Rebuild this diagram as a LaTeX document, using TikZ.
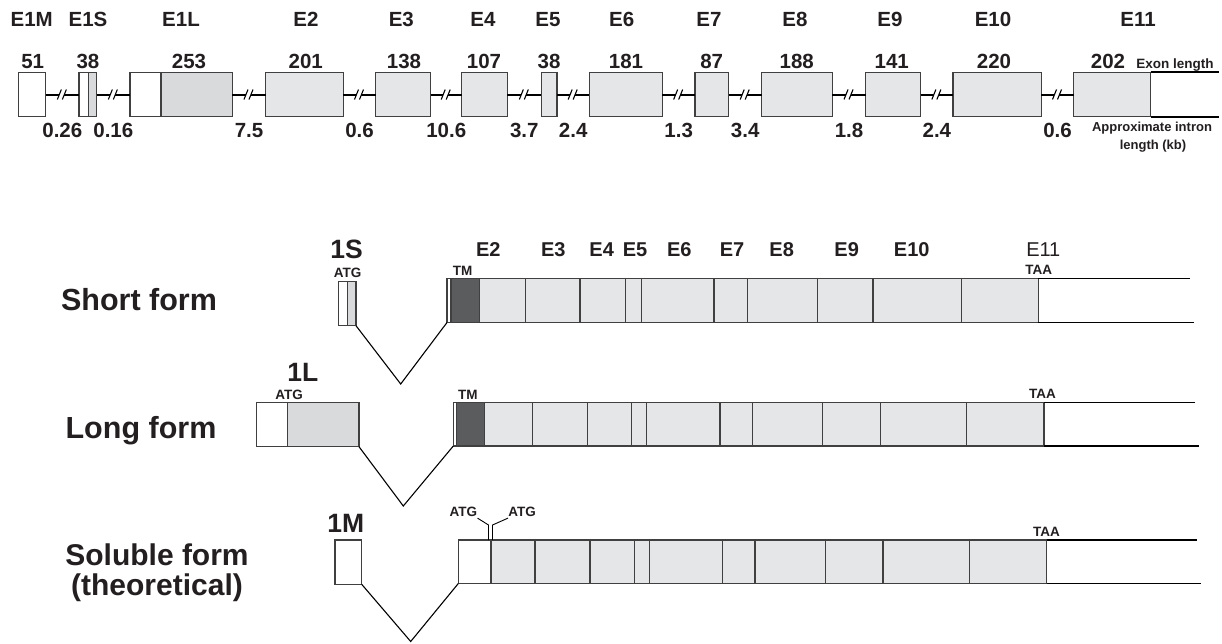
\documentclass[tikz,border=0pt]{standalone}
\usepackage{fontspec}
\setmainfont{Liberation Sans}
\usetikzlibrary{calc}
\definecolor{ink}{HTML}{231F20}
\definecolor{exf}{HTML}{E5E6E7}
\definecolor{cdsg}{HTML}{D9DADC}
\definecolor{tmf}{HTML}{5B5C5E}
\definecolor{boxc}{HTML}{404040}
\newcommand\exn[6]{\node[#2,minimum width={(#4)-(#3)},minimum height={(#6)-(#5)},anchor=north west] (#1) at (#3,#5) {};}
\tikzset{
  box/.style={draw=boxc,line width=1.2pt,inner sep=0pt,outer sep=0pt},
  exon/.style={box,fill=exf},
  utr/.style={box,fill=white},
  cds/.style={box,fill=cdsg},
  tmseg/.style={box,fill=tmf},
  intron/.style={draw=black,line width=2pt},
  tail/.style={draw=black,line width=2pt},
  splice/.style={draw=black,line width=1.1pt},
  ptr/.style={draw=black,line width=0.9pt},
  txt/.style={anchor=base,inner sep=0pt,outer sep=0pt,text=ink},
  lbl/.style={txt,font=\bfseries\fontsize{20.5}{24}\selectfont},
  ilen/.style={lbl,yshift=-43.2pt},
  ename/.style={txt,font=\bfseries\fontsize{20}{24}\selectfont},
  sub/.style={txt,font=\bfseries\fontsize{13.5}{16}\selectfont},
  note/.style={txt,font=\bfseries\fontsize{13}{16}\selectfont},
  big/.style={txt,font=\bfseries\fontsize{26.5}{30}\selectfont},
  iso/.style={txt,font=\bfseries\fontsize{30.5}{36}\selectfont},
  brk/.pic={\fill[white] (-5,5)--(-1,-5)--(4,-5)--(0,5)--cycle;
            \draw[black,line width=1.1pt] (-5,5)--(-1,-5) (0,5)--(4,-5);}
}
\begin{document}
\begin{tikzpicture}[x=1pt,y=-1pt]
\useasboundingbox[fill=white] (0,0) rectangle (1222,643);

% ---------- top: gene structure ----------
\exn{e1m}{utr}{18.3}{45.7}{72.3}{116.7}
\exn{e1sa}{utr}{79}{88.3}{72.3}{116.7}
\exn{e1sb}{cds}{88.3}{96.7}{72.3}{116.7}
\exn{e1la}{utr}{130}{161}{72.3}{116.7}
\exn{e1lb}{cds}{161}{232.3}{72.3}{116.7}
\exn{e2}{exon}{265.7}{343.3}{72.3}{116.7}
\exn{e3}{exon}{375.7}{430.7}{72.3}{116.7}
\exn{e4}{exon}{461.7}{507.3}{72.3}{116.7}
\exn{e5}{exon}{541.3}{557}{72.3}{116.7}
\exn{e6}{exon}{589.3}{662.3}{72.3}{116.7}
\exn{e7}{exon}{695}{728.7}{72.3}{116.7}
\exn{e8}{exon}{761.7}{832.3}{72.3}{116.7}
\exn{e9}{exon}{865.7}{920.7}{72.3}{116.7}
\exn{e10}{exon}{953}{1041.3}{72.3}{116.7}
\exn{e11}{exon}{1073.7}{1150.7}{72.3}{116.7}

\draw[intron] (e1m.east) -- node[ilen]{0.26} coordinate[midway](k1) (e1sa.west);
\draw[intron] (e1sb.east) -- node[ilen]{0.16} coordinate[midway](k2) (e1la.west);
\draw[intron] (e1lb.east) -- node[ilen]{7.5} coordinate[midway](k3) (e2.west);
\draw[intron] (e2.east) -- node[ilen]{0.6} coordinate[midway](k4) (e3.west);
\draw[intron] (e3.east) -- node[ilen]{10.6} coordinate[midway](k5) (e4.west);
\draw[intron] (e4.east) -- node[ilen]{3.7} coordinate[midway](k6) (e5.west);
\draw[intron] (e5.east) -- node[ilen]{2.4} coordinate[midway](k7) (e6.west);
\draw[intron] (e6.east) -- node[ilen]{1.3} coordinate[midway](k8) (e7.west);
\draw[intron] (e7.east) -- node[ilen]{3.4} coordinate[midway](k9) (e8.west);
\draw[intron] (e8.east) -- node[ilen]{1.8} coordinate[midway](k10) (e9.west);
\draw[intron] (e9.east) -- node[ilen]{2.4} coordinate[midway](k11) (e10.west);
\draw[intron] (e10.east) -- node[ilen]{0.6} coordinate[midway](k12) (e11.west);
\foreach \k in {k1,k2,k3,k4,k5,k6,k7,k8,k9,k10,k11,k12} \pic at (\k) {brk};

\coordinate (t1) at (1219,72.3);
\coordinate (t2) at (1219,116.7);
\draw[tail] (e11.north east) -- (t1);
\draw[tail] (e11.south east) -- (t2);

% exon names
\node[lbl] (n1m) at (31.7,26) {E1M};
\node[lbl] (n1s) at (88,26) {E1S};
\node[lbl] (n1l) at (181,26) {E1L};
\node[lbl] (n2) at (306,26) {E2};
\node[lbl] (n3) at (401.3,26) {E3};
\node[lbl] (n4) at (483,26) {E4};
\node[lbl] (n5) at (548,26) {E5};
\node[lbl] (n6) at (621.7,26) {E6};
\node[lbl] (n7) at (709,26) {E7};
\node[lbl] (n8) at (795,26) {E8};
\node[lbl] (n9) at (890,26) {E9};
\node[lbl] (n10) at (993,26) {E10};
\node[lbl] (n11) at (1138,26) {E11};
% exon lengths
\node[lbl] (l1m) at (32.7,68.3) {51};
\node[lbl] (l1s) at (88,68.3) {38};
\node[lbl] (l1l) at (189,68.3) {253};
\node[lbl] (l2) at (305.7,68.3) {201};
\node[lbl] (l3) at (404,68.3) {138};
\node[lbl] (l4) at (484,68.3) {107};
\node[lbl] (l5) at (549,68.3) {38};
\node[lbl] (l6) at (626,68.3) {181};
\node[lbl] (l7) at (711.7,68.3) {87};
\node[lbl] (l8) at (796.7,68.3) {188};
\node[lbl] (l9) at (891.7,68.3) {141};
\node[lbl] (l10) at (994,68.3) {220};
\node[lbl] (l11) at (1108,68.3) {202};
\node[note,font=\bfseries\fontsize{13.5}{16}\selectfont] (exlen) at (1175,68) {Exon length};
\node[note] (inlenA) at (1152,131) {Approximate intron};
\node[note] (inlenB) at (1153,149) {length (kb)};

% ---------- short form ----------
\node[iso] (shortlab) at (139,310) {Short form};
\exn{sa}{utr}{338.3}{347.7}{281.7}{325.7}
\exn{sb}{cds}{347.7}{356}{281.7}{325.7}
\exn{s0}{utr}{447}{451}{278.5}{322.5}
\exn{stm}{tmseg}{451}{479.3}{278.5}{322.5}
\exn{s2}{exon}{479.3}{525.3}{278.5}{322.5}
\exn{s3}{exon}{525.3}{580}{278.5}{322.5}
\exn{s4}{exon}{580}{625.7}{278.5}{322.5}
\exn{s5}{exon}{625.7}{641.7}{278.5}{322.5}
\exn{s6}{exon}{641.7}{714}{278.5}{322.5}
\exn{s7}{exon}{714}{747.3}{278.5}{322.5}
\exn{s8}{exon}{747.3}{817.7}{278.5}{322.5}
\exn{s9}{exon}{817.7}{873}{278.5}{322.5}
\exn{s10}{exon}{873}{961.7}{278.5}{322.5}
\exn{s11}{exon}{961.7}{1038.3}{278.5}{322.5}
\coordinate (st1) at (1190,278.5);
\coordinate (st2) at (1194,322.5);
\draw[tail,line width=1.5pt] (s11.north east) -- (st1);
\draw[tail,line width=1.5pt] (s11.south east) -- (st2);
\coordinate (vs) at (400.7,384);
\draw[splice] (sb.south east) -- (vs) -- (s0.south west);
\node[big] (s1lab) at (346.7,258.3) {1S};
\node[sub] (satg) at (347.7,277.3) {ATG};
\node[sub] (stmlab) at (462.7,275) {TM};
\node[sub] (staa) at (1038.7,274) {TAA};
\node[ename] (sn2) at (488.3,256) {E2};
\node[ename] (sn3) at (553.3,256) {E3};
\node[ename] (sn4) at (601.7,256) {E4};
\node[ename] (sn5) at (635,256) {E5};
\node[ename] (sn6) at (679.3,256) {E6};
\node[ename] (sn7) at (732,256) {E7};
\node[ename] (sn8) at (781.7,256) {E8};
\node[ename] (sn9) at (846.7,256) {E9};
\node[ename] (sn10) at (911.7,256) {E10};
\node[ename,font=\fontsize{20}{24}\selectfont] (sn11) at (1043.3,256) {E11};

% ---------- long form ----------
\node[iso] (longlab) at (141,438.3) {Long form};
\exn{la}{utr}{256.7}{287.3}{402.3}{446.7}
\exn{lb}{cds}{287.3}{359}{402.3}{446.7}
\exn{l0}{utr}{453.3}{456.7}{402.5}{446}
\exn{ltm}{tmseg}{456.7}{484.3}{402.5}{446}
\exn{lx2}{exon}{484.3}{532.7}{402.5}{446}
\exn{lx3}{exon}{532.7}{587.3}{402.5}{446}
\exn{lx4}{exon}{587.3}{631.7}{402.5}{446}
\exn{lx5}{exon}{631.7}{646.7}{402.5}{446}
\exn{lx6}{exon}{646.7}{720}{402.5}{446}
\exn{lx7}{exon}{720}{752.7}{402.5}{446}
\exn{lx8}{exon}{752.7}{822.7}{402.5}{446}
\exn{lx9}{exon}{822.7}{880.3}{402.5}{446}
\exn{lx10}{exon}{880.3}{966.7}{402.5}{446}
\exn{lx11}{exon}{966.7}{1044}{402.5}{446}
\coordinate (lt1) at (1195,402.5);
\coordinate (lt2) at (1199,446);
\draw[tail,line width=1.5pt] (lx11.north east) -- (lt1);
\draw[tail,line width=1.5pt] (lx11.south east) -- (lt2);
\coordinate (vl) at (403.3,506);
\draw[splice] (lb.south east) -- (vl) -- (l0.south west);
\node[big] (l1lab) at (302.8,381.7) {1L};
\node[sub] (latg) at (289,399.3) {ATG};
\node[sub] (ltmlab) at (467.8,399) {TM};
\node[sub] (ltaa) at (1042.5,398.3) {TAA};

% ---------- soluble form ----------
\node[iso,font=\bfseries\fontsize{30}{36}\selectfont] (sollab) at (157,565.5) {Soluble form};
\node[iso,font=\bfseries\fontsize{30}{36}\selectfont] (theolab) at (157,595.5) {(theoretical)};
\exn{m1}{utr}{335}{361.7}{540}{584.3}
\exn{m0}{utr}{458.3}{491}{540}{583.5}
\exn{m2}{exon}{491}{535}{540}{583.5}
\exn{m3}{exon}{535}{590}{540}{583.5}
\exn{m4}{exon}{590}{634.3}{540}{583.5}
\exn{m5}{exon}{634.3}{649.3}{540}{583.5}
\exn{m6}{exon}{649.3}{722.3}{540}{583.5}
\exn{m7}{exon}{722.3}{755}{540}{583.5}
\exn{m8}{exon}{755}{825.7}{540}{583.5}
\exn{m9}{exon}{825.7}{883}{540}{583.5}
\exn{m10}{exon}{883}{969.7}{540}{583.5}
\exn{m11}{exon}{969.7}{1046.7}{540}{583.5}
\coordinate (mt1) at (1196.7,540);
\coordinate (mt2) at (1200.7,583.5);
\draw[tail,line width=1.5pt] (m11.north east) -- (mt1);
\draw[tail,line width=1.5pt] (m11.south east) -- (mt2);
\coordinate (vm) at (410.7,641.5);
\draw[splice] (m1.south east) -- (vm) -- (m0.south west);
\node[big] (m1lab) at (345.7,532.7) {1M};
\node[sub] (matgA) at (463.3,516) {ATG};
\node[sub] (matgB) at (522.2,516) {ATG};
\node[sub] (mtaa) at (1046.5,536.7) {TAA};
\draw[ptr] ($(matgA.south east)+(0.5,2)$) -- ($(m0.north east)+(-2.5,-15)$) -- ($(m0.north east)+(-2.5,0)$);
\draw[ptr] ($(matgB.south west)+(-0.5,2)$) -- ($(m0.north east)+(1.5,-15)$) -- ($(m0.north east)+(1.5,0)$);
\end{tikzpicture}
\end{document}
